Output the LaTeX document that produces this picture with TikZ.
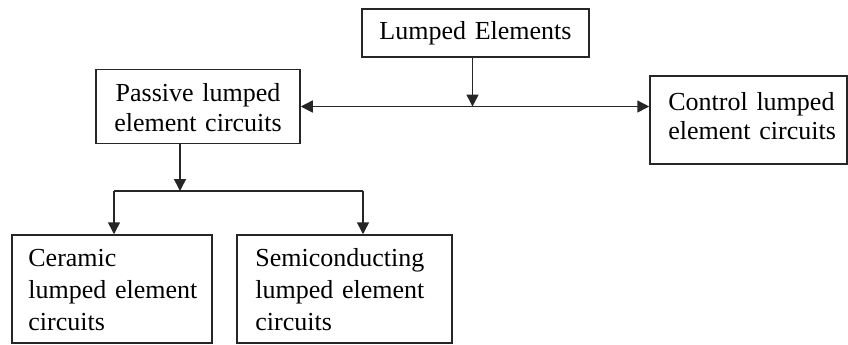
\documentclass[tikz,border=0pt]{standalone}
\usepackage{fontspec}
\setmainfont{Liberation Serif}
\usetikzlibrary{arrows.meta}
\begin{document}
\begin{tikzpicture}[x=0.5pt,y=-0.5pt,
  box/.style={draw=black!85, line width=0.75pt, inner sep=0pt},
  lbl/.style={inner sep=0pt, font=\fontsize{13}{15}\selectfont},
  conn/.style={line width=0.75pt, draw=black!85},
  arr/.style={conn, -{Triangle[length=6pt,width=6pt]}},
  darr/.style={conn, {Triangle[length=6pt,width=6pt]}-{Triangle[length=6pt,width=6pt]}}]
\useasboundingbox (0,0) rectangle (848,344);
% boxes
\node[box, minimum width=113.5pt, minimum height=24pt] (lumped) at (475.5,33) {};
\node[box, minimum width=102pt, minimum height=37pt] (passive) at (198,106.5) {};
\node[box, minimum width=98.5pt, minimum height=44pt] (control) at (748.5,120) {};
\node[box, minimum width=100pt, minimum height=54pt] (ceramic) at (112,289) {};
\node[box, minimum width=107.5pt, minimum height=54pt] (semi) at (344.5,289) {};
% texts
\node[lbl, anchor=base, text width=110pt, align=center] (tl) at (475.5,39) {Lumped Elements};
\node[lbl, anchor=base, text width=100pt, align=center] (tp) at (198,101) {Passive lumped\\element circuits};
\node[lbl, anchor=base west, text width=85pt, align=left, font=\fontsize{13}{14.5}\selectfont] (tc) at (668,110) {Control lumped\\element circuits};
\node[lbl, anchor=base west, text width=90pt, align=left, font=\fontsize{13}{16}\selectfont] (tce) at (28,266) {Ceramic\\lumped element\\circuits};
\node[lbl, anchor=base west, text width=95pt, align=left, font=\fontsize{13}{16}\selectfont] (tse) at (255,266) {Semiconducting\\lumped element\\circuits};
% connectors
\coordinate (jL) at (114,191);
\coordinate (jR) at (363,191);
\coordinate (ps) at ([xshift=-9pt]passive.south);
\coordinate (j2) at (ps |- jL);
\draw[arr] ([xshift=-1.5pt]lumped.south) -- ([xshift=-1.5pt]lumped.south |- passive.east);
\draw[darr] (passive.east) -- (passive.east -| control.west);
\draw[arr] (ps) -- (j2);
\draw[conn] (jL) -- (jR);
\draw[arr] (jL) -- (jL |- ceramic.north);
\draw[arr] (jR) -- (jR |- semi.north);
\end{tikzpicture}
\end{document}
